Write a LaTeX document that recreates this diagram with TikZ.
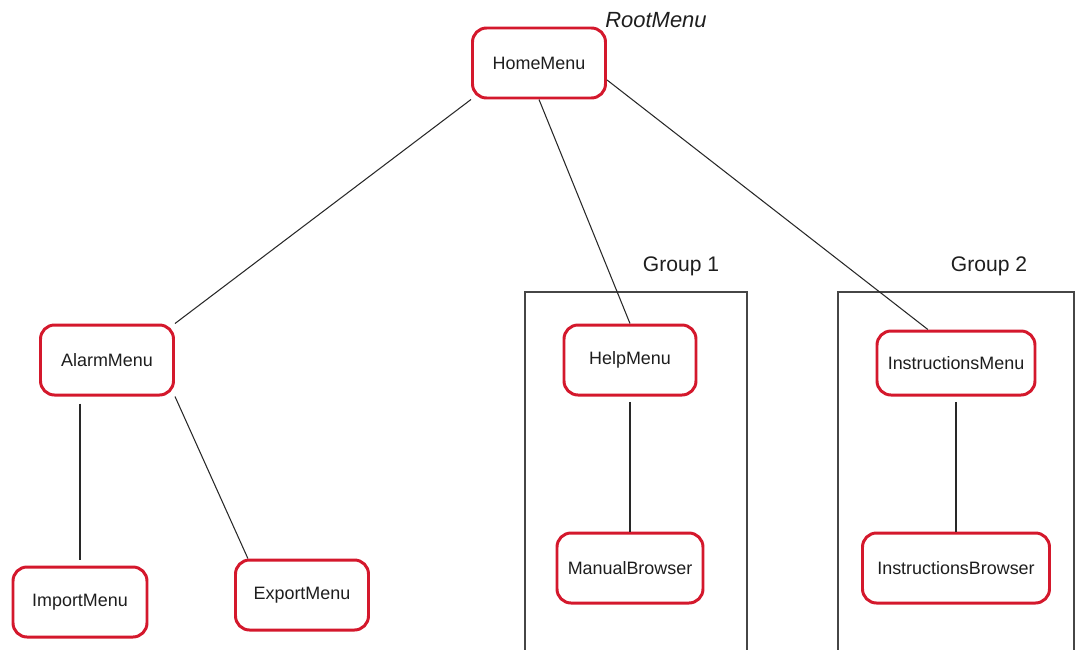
\documentclass[tikz,border=0pt]{standalone}
\usepackage{fontspec}
\setmainfont{Liberation Sans}
\definecolor{boxred}{RGB}{212,24,44}
\definecolor{txt}{RGB}{30,30,30}
\definecolor{wire}{RGB}{40,40,40}
\definecolor{grp}{RGB}{70,70,70}
\begin{document}
\begin{tikzpicture}[x=0.02cm,y=-0.02cm,
  menubox/.style 2 args={draw=boxred, line width=1.7pt, rounded corners=8pt, fill=white,
    minimum width=#1*0.02cm, minimum height=#2*0.02cm, inner sep=0pt,
    font=\fontsize{10.2}{12}\selectfont, text=txt},
  wireline/.style={draw=wire, line width=0.6pt},
  grpframe/.style={draw=grp, line width=0.8pt},
  grplabel/.style={font=\fontsize{12}{14}\selectfont, text=txt}
]
\useasboundingbox (0,0) rectangle (1080,650);
% group frames
\draw[grpframe] (525,652) -- (525,292) -- (747,292) -- (747,652);
\draw[grpframe] (838,652) -- (838,292) -- (1074,292) -- (1074,652);
\node[grplabel] (g1) at (681,266) {Group 1};
\node[grplabel] (g2) at (989,266) {Group 2};
% nodes
\node[menubox={133}{70}] (home) at (539,63) {HomeMenu};
\node[font=\fontsize{12.5}{15}\selectfont\itshape, text=txt] (root) at (656,20) {RootMenu};
\node[menubox={133}{70}] (alarm) at (107,360) {AlarmMenu};
\node[menubox={134}{70}] (import) at (80,602) {ImportMenu};
\node[menubox={133}{70}] (export) at (302,595) {ExportMenu};
\node[menubox={132}{70}] (help) at (630,360) {HelpMenu};
\node[menubox={146}{70}] (manual) at (630,568) {ManualBrowser};
\node[menubox={158}{64}] (instr) at (956,363) {InstructionsMenu};
\node[menubox={187}{70}] (browser) at (956,568) {InstructionsBrowser};
% connectors
\draw[wireline] (home.south west) -- (alarm.north east);
\draw[wireline] (home.south) -- (help.north);
\draw[wireline] (home.-14) -- (instr.130);
\draw[wireline, shorten <=4pt, shorten >=3pt] (alarm.south -| import.north) -- (import.north);
\draw[wireline] (alarm.south east) -- (export.146);
\draw[wireline, shorten <=3pt] (help.south) -- (manual.north);
\draw[wireline, shorten <=3pt] (instr.south) -- (browser.north);
\end{tikzpicture}
\end{document}
